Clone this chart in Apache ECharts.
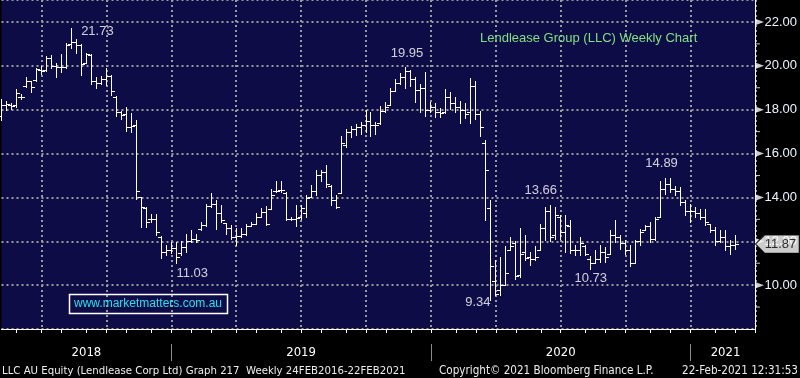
<!DOCTYPE html>
<html>
<head>
<meta charset="utf-8">
<script src="https://cdn.jsdelivr.net/npm/echarts@6/dist/echarts.min.js"></script>
<style>
  html, body { margin: 0; padding: 0; background: #000; }
  #main { width: 800px; height: 378px; }
</style>
</head>
<body>
<div id="main"></div>
<script>
// weekly OHLC (index 0 = week of 11 May 2018)
const opens = [
  17.7, 18.2, 18.2, 18.2, 18.6, 19.1, 19.3, 19.35, 19.8, 19.8,
  20.35, 20.0, 19.95, 19.95, 21.0, 21.1, 20.95, 20.15, 20.5, 19.3,
  19.2, 19.4, 19.55, 18.6, 17.9, 17.8, 17.2, 17.3, 14.0, 13.5,
  13.0, 13.0, 12.2, 11.5, 11.6, 11.7, 11.45, 11.75, 12.0, 12.1,
  12.55, 12.75, 13.6, 13.7, 13.3, 12.85, 12.6, 12.2, 12.25, 12.35,
  12.7, 12.8, 13.1, 13.35, 13.45, 14.3, 14.35, 14.2, 13.0, 13.0,
  13.1, 13.3, 14.0, 14.3, 15.0, 15.15, 14.5, 13.9, 14.2, 16.4,
  17.0, 17.1, 17.2, 17.3, 17.5, 17.3, 17.4, 17.95, 18.2, 18.86,
  19.2, 19.5, 19.75, 19.4, 18.9, 19.0, 18.0, 18.1, 17.9, 17.9,
  18.6, 18.3, 18.1, 18.0, 17.9, 19.1, 17.8, 16.5, 13.5, 10.2,
  9.8, 10.0, 11.6, 11.9, 10.45, 11.5, 11.3, 11.2, 11.6, 12.6,
  13.4, 12.3, 13.1, 12.4, 12.7, 11.6, 11.6, 11.8, 11.2, 11.0,
  11.2, 11.5, 11.4, 12.3, 12.2, 11.9, 11.6, 11.0, 12.0, 12.5,
  12.7, 12.1, 13.1, 14.4, 14.6, 14.4, 14.3, 13.8, 13.4, 13.4,
  13.3, 13.1, 12.8, 12.5, 12.0, 12.2, 11.8, 11.85
];
const highs = [
  18.48, 18.4, 18.3, 18.94, 18.72, 19.47, 19.3, 19.92, 20.0, 20.45,
  20.48, 20.15, 20.53, 21.06, 21.73, 21.24, 20.98, 20.6, 20.55, 19.47,
  19.55, 19.88, 19.58, 18.64, 17.95, 18.1, 17.83, 17.55, 14.0, 13.56,
  13.26, 13.26, 12.23, 11.82, 11.97, 11.97, 12.0, 12.33, 12.5, 12.35,
  12.9, 13.7, 14.2, 13.9, 13.64, 12.85, 12.73, 12.6, 12.6, 12.8,
  12.88, 13.3, 13.5, 13.6, 14.4, 14.73, 14.73, 14.24, 13.1, 13.64,
  13.64, 14.1, 14.55, 15.23, 15.27, 15.48, 14.55, 14.1, 16.82, 17.12,
  17.27, 17.35, 17.45, 18.0, 17.88, 17.42, 18.18, 18.36, 19.0, 19.39,
  19.67, 19.95, 19.8, 19.47, 19.17, 19.7, 18.36, 18.3, 18.06, 18.94,
  18.79, 18.56, 18.41, 18.3, 19.45, 19.3, 17.95, 16.6, 13.86, 11.14,
  11.27, 11.8, 12.2, 12.0, 12.6, 12.27, 11.5, 11.77, 12.8, 13.56,
  13.66, 13.55, 13.2, 13.2, 12.95, 11.82, 12.2, 11.85, 11.33, 11.6,
  11.82, 11.73, 12.5, 12.95, 12.27, 12.05, 11.82, 12.05, 12.58, 12.76,
  12.88, 13.1, 14.73, 14.88, 14.89, 14.52, 14.47, 13.86, 13.7, 13.56,
  13.48, 13.48, 12.8, 12.65, 12.5, 12.5, 12.05, 12.3
];
const lows = [
  17.55, 18.0, 18.05, 18.12, 18.5, 19.02, 18.82, 19.32, 19.62, 19.77,
  19.88, 19.5, 19.7, 19.92, 20.83, 20.58, 19.57, 20.15, 19.17, 19.0,
  19.15, 19.12, 18.67, 17.73, 17.58, 17.05, 16.97, 13.94, 12.65, 12.65,
  12.88, 12.3, 11.24, 11.36, 11.48, 11.03, 11.39, 11.5, 11.97, 11.95,
  12.5, 12.7, 13.55, 12.57, 12.9, 12.35, 12.1, 11.82, 12.2, 12.27,
  12.7, 12.8, 13.1, 12.73, 13.45, 14.24, 14.24, 12.95, 12.95, 12.7,
  13.0, 13.1, 14.0, 14.1, 14.73, 14.47, 13.67, 13.52, 14.2, 16.29,
  16.74, 16.85, 16.9, 16.97, 16.79, 16.9, 17.35, 17.88, 18.2, 18.86,
  19.17, 18.97, 19.09, 18.33, 17.88, 17.73, 17.88, 17.65, 17.65, 17.85,
  18.03, 17.88, 17.39, 17.6, 17.4, 17.58, 16.82, 12.95, 9.34, 9.55,
  9.55, 10.0, 11.6, 10.3, 10.36, 11.14, 10.9, 11.14, 11.6, 12.05,
  12.0, 12.1, 12.1, 11.5, 11.45, 11.36, 11.36, 11.36, 10.73, 11.0,
  11.06, 11.06, 11.4, 11.97, 11.67, 11.44, 10.89, 11.0, 11.82, 12.5,
  11.97, 12.05, 13.1, 14.17, 14.24, 14.1, 13.67, 13.18, 12.88, 13.1,
  13.03, 12.73, 12.42, 11.82, 11.97, 11.6, 11.44, 11.67
];
const closes = [
  18.2, 18.25, 18.15, 18.75, 18.56, 19.3, 19.05, 19.85, 19.75, 20.35,
  20.0, 19.95, 19.95, 20.95, 21.1, 20.95, 20.1, 20.55, 19.3, 19.2,
  19.4, 19.55, 18.85, 17.9, 17.75, 17.2, 17.25, 14.3, 13.56, 12.9,
  13.0, 12.4, 11.5, 11.6, 11.7, 11.3, 11.75, 12.0, 12.1, 12.05,
  12.75, 13.6, 13.7, 13.3, 12.95, 12.6, 12.2, 12.25, 12.35, 12.7,
  12.8, 13.1, 13.35, 12.8, 14.1, 14.3, 14.35, 13.0, 13.0, 13.05,
  13.5, 13.95, 14.3, 15.0, 15.15, 14.6, 13.9, 13.55, 16.5, 17.0,
  17.1, 17.2, 17.3, 17.5, 17.3, 17.3, 17.95, 18.1, 18.85, 19.2,
  19.5, 19.75, 19.4, 18.9, 19.0, 18.0, 18.1, 17.9, 17.85, 18.6,
  18.3, 18.1, 18.0, 17.8, 19.1, 17.8, 17.2, 15.26, 10.86, 9.6,
  10.0, 10.55, 11.8, 10.4, 11.4, 11.25, 11.2, 11.3, 12.6, 13.4,
  12.2, 13.2, 12.4, 12.75, 11.6, 11.6, 11.9, 11.4, 11.0, 11.2,
  11.5, 11.3, 12.3, 12.2, 11.9, 11.6, 11.0, 12.0, 12.4, 12.7,
  12.1, 13.0, 14.4, 14.6, 14.4, 14.3, 13.8, 13.4, 13.4, 13.3,
  13.1, 12.9, 12.5, 12.0, 12.2, 11.8, 11.85, 11.87
];

// annotated highs / lows
const markedIdx = [14, 35, 81, 98, 110, 118, 134];
const markedVal = [21.73, 11.03, 19.95, 9.34, 13.66, 10.73, 14.89];

// right axis
const majorTicks = [10, 12, 14, 16, 18, 20, 22];
const minorTicks = [9, 11, 13, 15, 17, 19, 21];

// weekly categories (a few empty weeks pad the right edge)
const weekCount = 152;
const weekDates = [];
for (let k = 0; k < weekCount; k++) {
  const d = new Date(Date.UTC(2018, 4, 11 + 7 * k));
  weekDates.push(d.toISOString().slice(0, 10));
}

const FONT = 'Liberation Sans';
const FOOT = 'DejaVu Sans Condensed';

const monthStart = weekDates.map((d, i) => i > 0 && d.slice(5, 7) !== weekDates[i - 1].slice(5, 7));
const quarterStart = weekDates.map((d, i) => monthStart[i] && ['01', '04', '07', '10'].includes(d.slice(5, 7)));
const yearStart = weekDates.map((d, i) => i > 0 && d.slice(0, 4) !== weekDates[i - 1].slice(0, 4));
// label each year in the middle of its visible span
const yearMid = weekDates.map(() => false);
(function () {
  let a = 0;
  for (let i = 1; i <= weekCount; i++) {
    if (i === weekCount || yearStart[i]) {
      yearMid[Math.floor((a + i) / 2)] = true;
      a = i;
    }
  }
})();

const gridLine = { color: '#9a9a9a', type: [2, 3], width: 2 };

let chart = echarts.init(document.getElementById('main'));

let renderBar = function (params, api) {
  let i = api.value(0);
  let o = api.coord([i, api.value(1)]);
  let h = api.coord([i, api.value(2)]);
  let l = api.coord([i, api.value(3)]);
  let c = api.coord([i, api.value(4)]);
  let x = Math.floor(h[0]) + 0.5;
  let r = function (v) { return Math.round(v) + 0.5; };
  let st = { stroke: '#ffffff', lineWidth: 1 };
  return {
    type: 'group',
    children: [
      { type: 'line', shape: { x1: x, y1: Math.round(h[1]), x2: x, y2: Math.round(l[1]) + 1 }, style: st },
      { type: 'line', shape: { x1: x - 3.5, y1: r(o[1]), x2: x, y2: r(o[1]) }, style: st },
      { type: 'line', shape: { x1: x, y1: r(c[1]), x2: x + 3.5, y2: r(c[1]) }, style: st }
    ]
  };
};

let labelOffsets = [[26, 4], [16, 11], [1, -13], [-13, 3], [-10, -14], [0, 9], [-9, -14]];

let option = {
  backgroundColor: '#000000',
  animation: false,
  title: {
    text: 'Lendlease Group (LLC) Weekly Chart',
    left: 480,
    top: 32,
    padding: 0,
    textStyle: { color: '#7fe07f', fontSize: 13, fontWeight: 'normal', fontFamily: FONT }
  },
  grid: {
    left: 1.5, right: 43.5, top: -1, height: 330,
    show: true, backgroundColor: '#0e0c47', borderWidth: 0
  },
  xAxis: [{
    type: 'category',
    data: weekDates,
    boundaryGap: false,
    axisLine: { lineStyle: { color: '#ffffff', width: 1 } },
    axisTick: { interval: (i) => monthStart[i], length: 4, lineStyle: { color: '#ffffff' } },
    axisLabel: { show: false },
    splitLine: { show: true, interval: (i) => quarterStart[i], lineStyle: gridLine }
  }, {
    type: 'category',
    data: weekDates,
    boundaryGap: false,
    position: 'bottom',
    offset: 15,
    axisLine: { show: false },
    axisTick: { show: true, interval: (i) => yearStart[i], length: 17, lineStyle: { color: '#8a8a8a' } },
    axisLabel: {
      interval: (i) => yearMid[i],
      formatter: (v) => v.slice(0, 4),
      color: '#ffffff', fontSize: 13, margin: 2, fontFamily: FOOT
    },
    splitLine: { show: false }
  }],
  yAxis: {
    type: 'value',
    position: 'right',
    min: 8, max: 23, interval: 2,
    axisLine: { show: true, lineStyle: { color: '#ffffff' } },
    axisTick: { show: false },
    axisLabel: {
      margin: 9, color: '#eef3ff', fontSize: 13, fontFamily: FONT,
      formatter: (v) => (v >= 10 && v <= 22 && v % 2 === 0) ? v.toFixed(2) : ''
    },
    splitLine: { show: true, lineStyle: gridLine }
  },
  series: [{
    type: 'custom',
    renderItem: renderBar,
    encode: { x: 0, y: [1, 2, 3, 4] },
    data: opens.map((o, i) => [i, o, highs[i], lows[i], closes[i]]),
    z: 3
  }, {
    type: 'scatter',
    symbolSize: 0,
    data: markedIdx.map((idx, k) => ({ value: [idx, markedVal[k]], label: { offset: labelOffsets[k] } })),
    label: {
      show: true, position: 'inside',
      formatter: (p) => p.value[1].toFixed(2),
      color: '#ffffff', fontSize: 13, fontFamily: FONT
    },
    z: 4
  }, {
    type: 'scatter',
    clip: false,
    symbol: 'triangle',
    symbolSize: [6, 8],
    symbolRotate: -90,
    symbolOffset: [4.5, 0],
    itemStyle: { color: '#ffffff' },
    data: majorTicks.map((v) => [weekCount - 1, v]),
    z: 5
  }, {
    type: 'scatter',
    clip: false,
    symbol: 'rect',
    symbolSize: [4, 1],
    symbolOffset: [2.5, 0],
    itemStyle: { color: '#ffffff' },
    data: minorTicks.map((v) => [weekCount - 1, v]),
    z: 5
  }, {
    type: 'scatter',
    clip: false,
    symbol: 'path://M0,9L9,0L44,0L44,18L9,18Z',
    symbolKeepAspect: false,
    symbolSize: [44, 18],
    symbolOffset: [22, 0],
    itemStyle: { color: '#ffffff', borderColor: '#000000', borderWidth: 1 },
    data: [[weekCount - 1, closes[closes.length - 1]]],
    label: {
      show: true, position: 'inside', offset: [3, 0],
      formatter: (p) => p.value[1].toFixed(2),
      color: '#000000', fontSize: 13, fontFamily: FONT
    },
    z: 6
  }],
  graphic: [
    { type: 'rect', shape: { x: 69.5, y: 294.5, width: 158, height: 19 }, style: { fill: 'none', stroke: '#ffffff', lineWidth: 1.5 }, z: 10 },
    { type: 'text', x: 148, y: 304, style: { text: 'www.marketmatters.com.au', fill: '#22e2f0', fontSize: 12, fontFamily: FONT, align: 'center', verticalAlign: 'middle' }, z: 10 },
    { type: 'text', x: 2, y: 371, style: { text: 'LLC AU Equity (Lendlease Corp Ltd) Graph 217  Weekly 24FEB2016-22FEB2021', fill: '#ededed', fontSize: 11.3, fontFamily: FOOT, verticalAlign: 'middle' }, z: 10 },
    { type: 'text', x: 439, y: 371, style: { text: 'Copyright\u00a9 2021 Bloomberg Finance L.P.', fill: '#ededed', fontSize: 11.6, fontFamily: FOOT, verticalAlign: 'middle' }, z: 10 },
    { type: 'text', x: 798, y: 371, style: { text: '22-Feb-2021 12:31:53', fill: '#ededed', fontSize: 11.6, fontFamily: FOOT, align: 'right', verticalAlign: 'middle' }, z: 10 }
  ]
};

chart.setOption(option);
</script>
</body>
</html>
